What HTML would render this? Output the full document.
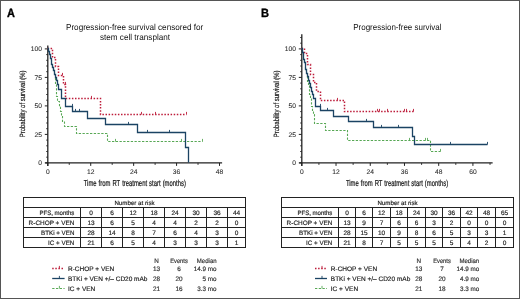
<!DOCTYPE html>
<html><head><meta charset="utf-8"><style>
html,body{margin:0;padding:0;background:#fff;width:520px;height:299px;overflow:hidden;font-family:"Liberation Sans",sans-serif}
</style></head><body>
<svg width="520" height="299" viewBox="0 0 520 299" style="position:absolute;left:0;top:0;will-change:transform">
<g font-family='"Liberation Sans", sans-serif' fill="#222">
<style>text{stroke:#000;stroke-width:0.15px;paint-order:stroke;text-rendering:geometricPrecision}.ns{stroke:none}.tk{stroke:#333;stroke-width:0.08px}.lb{stroke-width:0.35px}.ax{stroke-width:0.22px;word-spacing:0.6px}.yt{stroke-width:0.2px}</style>
<rect x="0.5" y="0.5" width="519" height="298" fill="none" stroke="#555" stroke-width="1"/>
<text x="6.9" y="16.6" font-size="12" text-anchor="start" font-weight="bold" fill="#000" textLength="7.9" lengthAdjust="spacingAndGlyphs" class="lb">A</text>
<text x="260.9" y="16.6" font-size="12" text-anchor="start" font-weight="bold" fill="#000" textLength="8.0" lengthAdjust="spacingAndGlyphs" class="lb">B</text>
<line x1="47.8" y1="45.6" x2="47.8" y2="165.9" stroke="#222" stroke-width="1.3"/>
<line x1="45.2" y1="162.9" x2="222.1" y2="162.9" stroke="#222" stroke-width="1.3"/>
<line x1="44.8" y1="162.9" x2="47.8" y2="162.9" stroke="#222" stroke-width="1"/>
<line x1="46.2" y1="157.2" x2="47.8" y2="157.2" stroke="#222" stroke-width="0.9"/>
<line x1="46.2" y1="151.5" x2="47.8" y2="151.5" stroke="#222" stroke-width="0.9"/>
<line x1="46.2" y1="145.8" x2="47.8" y2="145.8" stroke="#222" stroke-width="0.9"/>
<line x1="46.2" y1="140.1" x2="47.8" y2="140.1" stroke="#222" stroke-width="0.9"/>
<line x1="44.8" y1="134.4" x2="47.8" y2="134.4" stroke="#222" stroke-width="1"/>
<line x1="46.2" y1="128.7" x2="47.8" y2="128.7" stroke="#222" stroke-width="0.9"/>
<line x1="46.2" y1="123" x2="47.8" y2="123" stroke="#222" stroke-width="0.9"/>
<line x1="46.2" y1="117.3" x2="47.8" y2="117.3" stroke="#222" stroke-width="0.9"/>
<line x1="46.2" y1="111.6" x2="47.8" y2="111.6" stroke="#222" stroke-width="0.9"/>
<line x1="44.8" y1="105.9" x2="47.8" y2="105.9" stroke="#222" stroke-width="1"/>
<line x1="46.2" y1="100.2" x2="47.8" y2="100.2" stroke="#222" stroke-width="0.9"/>
<line x1="46.2" y1="94.5" x2="47.8" y2="94.5" stroke="#222" stroke-width="0.9"/>
<line x1="46.2" y1="88.8" x2="47.8" y2="88.8" stroke="#222" stroke-width="0.9"/>
<line x1="46.2" y1="83.1" x2="47.8" y2="83.1" stroke="#222" stroke-width="0.9"/>
<line x1="44.8" y1="77.4" x2="47.8" y2="77.4" stroke="#222" stroke-width="1"/>
<line x1="46.2" y1="71.7" x2="47.8" y2="71.7" stroke="#222" stroke-width="0.9"/>
<line x1="46.2" y1="66" x2="47.8" y2="66" stroke="#222" stroke-width="0.9"/>
<line x1="46.2" y1="60.3" x2="47.8" y2="60.3" stroke="#222" stroke-width="0.9"/>
<line x1="46.2" y1="54.6" x2="47.8" y2="54.6" stroke="#222" stroke-width="0.9"/>
<line x1="44.8" y1="48.9" x2="47.8" y2="48.9" stroke="#222" stroke-width="1"/>
<text x="42" y="165.3" font-size="6.7" text-anchor="end" fill="#2a2a2a" class="tk">0</text>
<text x="42" y="136.8" font-size="6.7" text-anchor="end" fill="#2a2a2a" class="tk">25</text>
<text x="42" y="108.3" font-size="6.7" text-anchor="end" fill="#2a2a2a" class="tk">50</text>
<text x="42" y="79.8" font-size="6.7" text-anchor="end" fill="#2a2a2a" class="tk">75</text>
<text x="42" y="51.3" font-size="6.7" text-anchor="end" fill="#2a2a2a" class="tk">100</text>
<line x1="69.26" y1="162.9" x2="69.26" y2="164.9" stroke="#222" stroke-width="0.9"/>
<line x1="112.19" y1="162.9" x2="112.19" y2="164.9" stroke="#222" stroke-width="0.9"/>
<line x1="155.11" y1="162.9" x2="155.11" y2="164.9" stroke="#222" stroke-width="0.9"/>
<line x1="198.03" y1="162.9" x2="198.03" y2="164.9" stroke="#222" stroke-width="0.9"/>
<line x1="47.8" y1="162.9" x2="47.8" y2="165.9" stroke="#222" stroke-width="1"/>
<text x="47.8" y="174.4" font-size="6.7" text-anchor="middle" fill="#2a2a2a" class="tk">0</text>
<line x1="90.72" y1="162.9" x2="90.72" y2="165.9" stroke="#222" stroke-width="1"/>
<text x="90.72" y="174.4" font-size="6.7" text-anchor="middle" fill="#2a2a2a" class="tk">12</text>
<line x1="133.65" y1="162.9" x2="133.65" y2="165.9" stroke="#222" stroke-width="1"/>
<text x="133.65" y="174.4" font-size="6.7" text-anchor="middle" fill="#2a2a2a" class="tk">24</text>
<line x1="176.57" y1="162.9" x2="176.57" y2="165.9" stroke="#222" stroke-width="1"/>
<text x="176.57" y="174.4" font-size="6.7" text-anchor="middle" fill="#2a2a2a" class="tk">36</text>
<line x1="219.5" y1="162.9" x2="219.5" y2="165.9" stroke="#222" stroke-width="1"/>
<text x="219.5" y="174.4" font-size="6.7" text-anchor="middle" fill="#2a2a2a" class="tk">48</text>
<text x="134.6" y="29.7" font-size="8.6" text-anchor="middle" fill="#111" textLength="137.2" lengthAdjust="spacingAndGlyphs" class="ns">Progression-free survival censored for</text>
<text x="135" y="39.7" font-size="8.6" text-anchor="middle" fill="#111" textLength="70.2" lengthAdjust="spacingAndGlyphs" class="ns">stem cell transplant</text>
<text transform="translate(25.0,103.8) rotate(-90)" x="0" y="0" font-size="7.6" text-anchor="middle" textLength="66.7" lengthAdjust="spacingAndGlyphs" class="yt">Probability of survival (%)</text>
<path d="M47.50,48.50 48.50,48.50 48.50,51.50 49.50,51.50 49.50,54.50 50.50,54.50 50.50,58.50 51.50,58.50 51.50,61.50 51.50,61.50 51.50,64.50 52.50,64.50 52.50,67.50 53.50,67.50 53.50,70.50 54.50,70.50 54.50,74.50 55.50,74.50 55.50,77.50 55.50,77.50 55.50,84.50 56.50,84.50 56.50,90.50 56.50,90.50 56.50,96.50 57.50,96.50 57.50,101.50 59.50,101.50 59.50,106.50 60.50,106.50 60.50,111.50 61.50,111.50 61.50,116.50 62.50,116.50 62.50,121.50 64.50,121.50 64.50,126.50 76.50,126.50 76.50,133.50 107.50,133.50 107.50,141.50 202.50,141.50" fill="none" stroke="#58a855" stroke-width="1.1" stroke-dasharray="2.3,1.45" stroke-linejoin="miter"/>
<line x1="115.5" y1="141.5" x2="115.5" y2="138.9" stroke="#58a855" stroke-width="0.9"/>
<line x1="181.5" y1="141.5" x2="181.5" y2="138.9" stroke="#58a855" stroke-width="0.9"/>
<line x1="202.5" y1="141.5" x2="202.5" y2="138.9" stroke="#58a855" stroke-width="0.9"/>
<path d="M47.50,48.50 52.50,48.50 52.50,57.50 55.50,57.50 55.50,66.50 58.50,66.50 58.50,75.50 63.50,75.50 63.50,84.50 65.50,84.50 65.50,98.50 100.50,98.50 100.50,114.50 186.50,114.50" fill="none" stroke="#bd1c3a" stroke-width="1.5" stroke-dasharray="1.5,1.6" stroke-linejoin="miter"/>
<line x1="62.5" y1="75.5" x2="62.5" y2="72.9" stroke="#bd1c3a" stroke-width="0.9"/>
<line x1="65.5" y1="84.5" x2="65.5" y2="81.9" stroke="#bd1c3a" stroke-width="0.9"/>
<line x1="91.5" y1="98.5" x2="91.5" y2="95.9" stroke="#bd1c3a" stroke-width="0.9"/>
<line x1="141.5" y1="114.5" x2="141.5" y2="111.9" stroke="#bd1c3a" stroke-width="0.9"/>
<line x1="155.5" y1="114.5" x2="155.5" y2="111.9" stroke="#bd1c3a" stroke-width="0.9"/>
<line x1="186.5" y1="114.5" x2="186.5" y2="111.9" stroke="#bd1c3a" stroke-width="0.9"/>
<path d="M47.50,48.50 48.50,48.50 48.50,51.50 49.50,51.50 49.50,54.50 50.50,54.50 50.50,58.50 51.50,58.50 51.50,61.50 51.50,61.50 51.50,64.50 52.50,64.50 52.50,67.50 53.50,67.50 53.50,70.50 54.50,70.50 54.50,74.50 55.50,74.50 55.50,77.50 56.50,77.50 56.50,80.50 57.50,80.50 57.50,84.50 58.50,84.50 58.50,89.50 61.50,89.50 61.50,98.50 65.50,98.50 65.50,106.50 72.50,106.50 72.50,111.50 87.50,111.50 87.50,118.50 105.50,118.50 105.50,124.50 137.50,124.50 137.50,132.50 185.50,132.50 185.50,147.50 188.50,147.50 188.50,162.50" fill="none" stroke="#1b4363" stroke-width="1.3" stroke-dasharray="none" stroke-linejoin="miter"/>
<line x1="72.5" y1="106.5" x2="72.5" y2="103.9" stroke="#1b4363" stroke-width="0.9"/>
<line x1="75.5" y1="111.5" x2="75.5" y2="108.9" stroke="#1b4363" stroke-width="0.9"/>
<line x1="79.5" y1="111.5" x2="79.5" y2="108.9" stroke="#1b4363" stroke-width="0.9"/>
<line x1="128.5" y1="124.5" x2="128.5" y2="121.9" stroke="#1b4363" stroke-width="0.9"/>
<line x1="147.5" y1="132.5" x2="147.5" y2="129.9" stroke="#1b4363" stroke-width="0.9"/>
<line x1="169.5" y1="132.5" x2="169.5" y2="129.9" stroke="#1b4363" stroke-width="0.9"/>
<text x="134.8" y="185.9" font-size="8.6" text-anchor="middle" textLength="102.2" lengthAdjust="spacingAndGlyphs" class="ax">Time from RT treatment start (months)</text>
<line x1="301.8" y1="34.2" x2="301.8" y2="165.9" stroke="#222" stroke-width="1.3"/>
<line x1="299.2" y1="162.9" x2="492.63" y2="162.9" stroke="#222" stroke-width="1.3"/>
<line x1="298.8" y1="162.9" x2="301.8" y2="162.9" stroke="#222" stroke-width="1"/>
<line x1="300.2" y1="157.2" x2="301.8" y2="157.2" stroke="#222" stroke-width="0.9"/>
<line x1="300.2" y1="151.5" x2="301.8" y2="151.5" stroke="#222" stroke-width="0.9"/>
<line x1="300.2" y1="145.8" x2="301.8" y2="145.8" stroke="#222" stroke-width="0.9"/>
<line x1="300.2" y1="140.1" x2="301.8" y2="140.1" stroke="#222" stroke-width="0.9"/>
<line x1="298.8" y1="134.4" x2="301.8" y2="134.4" stroke="#222" stroke-width="1"/>
<line x1="300.2" y1="128.7" x2="301.8" y2="128.7" stroke="#222" stroke-width="0.9"/>
<line x1="300.2" y1="123" x2="301.8" y2="123" stroke="#222" stroke-width="0.9"/>
<line x1="300.2" y1="117.3" x2="301.8" y2="117.3" stroke="#222" stroke-width="0.9"/>
<line x1="300.2" y1="111.6" x2="301.8" y2="111.6" stroke="#222" stroke-width="0.9"/>
<line x1="298.8" y1="105.9" x2="301.8" y2="105.9" stroke="#222" stroke-width="1"/>
<line x1="300.2" y1="100.2" x2="301.8" y2="100.2" stroke="#222" stroke-width="0.9"/>
<line x1="300.2" y1="94.5" x2="301.8" y2="94.5" stroke="#222" stroke-width="0.9"/>
<line x1="300.2" y1="88.8" x2="301.8" y2="88.8" stroke="#222" stroke-width="0.9"/>
<line x1="300.2" y1="83.1" x2="301.8" y2="83.1" stroke="#222" stroke-width="0.9"/>
<line x1="298.8" y1="77.4" x2="301.8" y2="77.4" stroke="#222" stroke-width="1"/>
<line x1="300.2" y1="71.7" x2="301.8" y2="71.7" stroke="#222" stroke-width="0.9"/>
<line x1="300.2" y1="66" x2="301.8" y2="66" stroke="#222" stroke-width="0.9"/>
<line x1="300.2" y1="60.3" x2="301.8" y2="60.3" stroke="#222" stroke-width="0.9"/>
<line x1="300.2" y1="54.6" x2="301.8" y2="54.6" stroke="#222" stroke-width="0.9"/>
<line x1="298.8" y1="48.9" x2="301.8" y2="48.9" stroke="#222" stroke-width="1"/>
<line x1="300.2" y1="43.2" x2="301.8" y2="43.2" stroke="#222" stroke-width="0.9"/>
<line x1="300.2" y1="37.5" x2="301.8" y2="37.5" stroke="#222" stroke-width="0.9"/>
<text x="296" y="165.3" font-size="6.7" text-anchor="end" fill="#2a2a2a" class="tk">0</text>
<text x="296" y="136.8" font-size="6.7" text-anchor="end" fill="#2a2a2a" class="tk">25</text>
<text x="296" y="108.3" font-size="6.7" text-anchor="end" fill="#2a2a2a" class="tk">50</text>
<text x="296" y="79.8" font-size="6.7" text-anchor="end" fill="#2a2a2a" class="tk">75</text>
<text x="296" y="51.3" font-size="6.7" text-anchor="end" fill="#2a2a2a" class="tk">100</text>
<line x1="318.91" y1="162.9" x2="318.91" y2="164.9" stroke="#222" stroke-width="0.9"/>
<line x1="353.14" y1="162.9" x2="353.14" y2="164.9" stroke="#222" stroke-width="0.9"/>
<line x1="387.36" y1="162.9" x2="387.36" y2="164.9" stroke="#222" stroke-width="0.9"/>
<line x1="421.58" y1="162.9" x2="421.58" y2="164.9" stroke="#222" stroke-width="0.9"/>
<line x1="455.81" y1="162.9" x2="455.81" y2="164.9" stroke="#222" stroke-width="0.9"/>
<line x1="490.03" y1="162.9" x2="490.03" y2="164.9" stroke="#222" stroke-width="0.9"/>
<line x1="301.8" y1="162.9" x2="301.8" y2="165.9" stroke="#222" stroke-width="1"/>
<text x="301.8" y="174.4" font-size="6.7" text-anchor="middle" fill="#2a2a2a" class="tk">0</text>
<line x1="336.02" y1="162.9" x2="336.02" y2="165.9" stroke="#222" stroke-width="1"/>
<text x="336.02" y="174.4" font-size="6.7" text-anchor="middle" fill="#2a2a2a" class="tk">12</text>
<line x1="370.25" y1="162.9" x2="370.25" y2="165.9" stroke="#222" stroke-width="1"/>
<text x="370.25" y="174.4" font-size="6.7" text-anchor="middle" fill="#2a2a2a" class="tk">24</text>
<line x1="404.47" y1="162.9" x2="404.47" y2="165.9" stroke="#222" stroke-width="1"/>
<text x="404.47" y="174.4" font-size="6.7" text-anchor="middle" fill="#2a2a2a" class="tk">36</text>
<line x1="438.7" y1="162.9" x2="438.7" y2="165.9" stroke="#222" stroke-width="1"/>
<text x="438.7" y="174.4" font-size="6.7" text-anchor="middle" fill="#2a2a2a" class="tk">48</text>
<line x1="472.92" y1="162.9" x2="472.92" y2="165.9" stroke="#222" stroke-width="1"/>
<text x="472.92" y="174.4" font-size="6.7" text-anchor="middle" fill="#2a2a2a" class="tk">60</text>
<text x="397.4" y="29.6" font-size="8.6" text-anchor="middle" fill="#111" textLength="88.4" lengthAdjust="spacingAndGlyphs" class="ns">Progression-free survival</text>
<text transform="translate(279.0,103.8) rotate(-90)" x="0" y="0" font-size="7.6" text-anchor="middle" textLength="66.7" lengthAdjust="spacingAndGlyphs" class="yt">Probability of survival (%)</text>
<path d="M301.50,48.50 302.50,48.50 302.50,52.50 303.50,52.50 303.50,55.50 303.50,55.50 303.50,59.50 304.50,59.50 304.50,62.50 305.50,62.50 305.50,66.50 305.50,66.50 305.50,69.50 306.50,69.50 306.50,73.50 307.50,73.50 307.50,76.50 307.50,76.50 307.50,81.50 308.50,81.50 308.50,85.50 309.50,85.50 309.50,90.50 309.50,90.50 309.50,94.50 310.50,94.50 310.50,98.50 311.50,98.50 311.50,102.50 311.50,102.50 311.50,106.50 312.50,106.50 312.50,110.50 313.50,110.50 313.50,114.50 314.50,114.50 314.50,118.50 314.50,118.50 314.50,123.50 325.50,123.50 325.50,130.50 347.50,130.50 347.50,140.50 430.50,140.50 430.50,151.50 440.50,151.50" fill="none" stroke="#58a855" stroke-width="1.1" stroke-dasharray="2.3,1.45" stroke-linejoin="miter"/>
<line x1="409.5" y1="140.5" x2="409.5" y2="137.9" stroke="#58a855" stroke-width="0.9"/>
<line x1="425.5" y1="140.5" x2="425.5" y2="137.9" stroke="#58a855" stroke-width="0.9"/>
<line x1="427.5" y1="140.5" x2="427.5" y2="137.9" stroke="#58a855" stroke-width="0.9"/>
<line x1="440.5" y1="151.5" x2="440.5" y2="148.9" stroke="#58a855" stroke-width="0.9"/>
<path d="M301.50,48.50 304.50,48.50 304.50,53.50 307.50,53.50 307.50,64.50 310.50,64.50 310.50,74.50 313.50,74.50 313.50,82.50 316.50,82.50 316.50,91.50 320.50,91.50 320.50,100.50 344.50,100.50 344.50,111.50 413.50,111.50" fill="none" stroke="#bd1c3a" stroke-width="1.5" stroke-dasharray="1.5,1.6" stroke-linejoin="miter"/>
<line x1="337.5" y1="100.5" x2="337.5" y2="97.9" stroke="#bd1c3a" stroke-width="0.9"/>
<line x1="377.5" y1="111.5" x2="377.5" y2="108.9" stroke="#bd1c3a" stroke-width="0.9"/>
<line x1="379.5" y1="111.5" x2="379.5" y2="108.9" stroke="#bd1c3a" stroke-width="0.9"/>
<line x1="387.5" y1="111.5" x2="387.5" y2="108.9" stroke="#bd1c3a" stroke-width="0.9"/>
<line x1="404.5" y1="111.5" x2="404.5" y2="108.9" stroke="#bd1c3a" stroke-width="0.9"/>
<line x1="406.5" y1="111.5" x2="406.5" y2="108.9" stroke="#bd1c3a" stroke-width="0.9"/>
<line x1="413.5" y1="111.5" x2="413.5" y2="108.9" stroke="#bd1c3a" stroke-width="0.9"/>
<path d="M301.50,48.50 302.50,48.50 302.50,52.50 303.50,52.50 303.50,55.50 303.50,55.50 303.50,59.50 304.50,59.50 304.50,62.50 305.50,62.50 305.50,66.50 305.50,66.50 305.50,69.50 306.50,69.50 306.50,73.50 307.50,73.50 307.50,76.50 308.50,76.50 308.50,80.50 309.50,80.50 309.50,83.50 310.50,83.50 310.50,87.50 311.50,87.50 311.50,91.50 312.50,91.50 312.50,94.50 313.50,94.50 313.50,98.50 315.50,98.50 315.50,106.50 320.50,106.50 320.50,110.50 333.50,110.50 333.50,116.50 348.50,116.50 348.50,121.50 373.50,121.50 373.50,127.50 412.50,127.50 412.50,136.50 414.50,136.50 414.50,144.50 487.50,144.50" fill="none" stroke="#1b4363" stroke-width="1.3" stroke-dasharray="none" stroke-linejoin="miter"/>
<line x1="320.5" y1="106.5" x2="320.5" y2="103.9" stroke="#1b4363" stroke-width="0.9"/>
<line x1="327.5" y1="110.5" x2="327.5" y2="107.9" stroke="#1b4363" stroke-width="0.9"/>
<line x1="366.5" y1="121.5" x2="366.5" y2="118.9" stroke="#1b4363" stroke-width="0.9"/>
<line x1="381.5" y1="127.5" x2="381.5" y2="124.9" stroke="#1b4363" stroke-width="0.9"/>
<line x1="398.5" y1="127.5" x2="398.5" y2="124.9" stroke="#1b4363" stroke-width="0.9"/>
<line x1="450.5" y1="144.5" x2="450.5" y2="141.9" stroke="#1b4363" stroke-width="0.9"/>
<line x1="487.5" y1="144.5" x2="487.5" y2="141.9" stroke="#1b4363" stroke-width="0.9"/>
<text x="397" y="185.9" font-size="8.6" text-anchor="middle" textLength="102.2" lengthAdjust="spacingAndGlyphs" class="ax">Time from RT treatment start (months)</text>
<rect x="23.5" y="197.5" width="222.0" height="50.0" fill="none" stroke="#222" stroke-width="1"/>
<line x1="23.5" y1="207.5" x2="245.5" y2="207.5" stroke="#222" stroke-width="1"/>
<line x1="23.5" y1="217.5" x2="245.5" y2="217.5" stroke="#222" stroke-width="1"/>
<line x1="23.5" y1="227.5" x2="245.5" y2="227.5" stroke="#222" stroke-width="1"/>
<line x1="23.5" y1="237.5" x2="245.5" y2="237.5" stroke="#222" stroke-width="1"/>
<line x1="80.5" y1="207.5" x2="80.5" y2="247.5" stroke="#222" stroke-width="1"/>
<line x1="101.5" y1="207.5" x2="101.5" y2="247.5" stroke="#222" stroke-width="1"/>
<line x1="122.5" y1="207.5" x2="122.5" y2="247.5" stroke="#222" stroke-width="1"/>
<line x1="143.5" y1="207.5" x2="143.5" y2="247.5" stroke="#222" stroke-width="1"/>
<line x1="164.5" y1="207.5" x2="164.5" y2="247.5" stroke="#222" stroke-width="1"/>
<line x1="185.5" y1="207.5" x2="185.5" y2="247.5" stroke="#222" stroke-width="1"/>
<line x1="206.5" y1="207.5" x2="206.5" y2="247.5" stroke="#222" stroke-width="1"/>
<line x1="227.5" y1="207.5" x2="227.5" y2="247.5" stroke="#222" stroke-width="1"/>
<text x="134.5" y="204.5" font-size="6.2" text-anchor="middle">Number at risk</text>
<text x="74.4" y="214.5" font-size="6.3" text-anchor="end" textLength="35.0" lengthAdjust="spacingAndGlyphs">PFS, months</text>
<text x="91" y="214.5" font-size="6.5" text-anchor="middle">0</text>
<text x="112" y="214.5" font-size="6.5" text-anchor="middle">6</text>
<text x="133" y="214.5" font-size="6.5" text-anchor="middle">12</text>
<text x="154" y="214.5" font-size="6.5" text-anchor="middle">18</text>
<text x="175" y="214.5" font-size="6.5" text-anchor="middle">24</text>
<text x="196" y="214.5" font-size="6.5" text-anchor="middle">30</text>
<text x="217" y="214.5" font-size="6.5" text-anchor="middle">36</text>
<text x="236.5" y="214.5" font-size="6.5" text-anchor="middle">44</text>
<text x="74.4" y="224.5" font-size="6.3" text-anchor="end" textLength="45.8" lengthAdjust="spacingAndGlyphs">R-CHOP + VEN</text>
<text x="91" y="224.5" font-size="6.5" text-anchor="middle">13</text>
<text x="112" y="224.5" font-size="6.5" text-anchor="middle">6</text>
<text x="133" y="224.5" font-size="6.5" text-anchor="middle">5</text>
<text x="154" y="224.5" font-size="6.5" text-anchor="middle">4</text>
<text x="175" y="224.5" font-size="6.5" text-anchor="middle">4</text>
<text x="196" y="224.5" font-size="6.5" text-anchor="middle">2</text>
<text x="217" y="224.5" font-size="6.5" text-anchor="middle">2</text>
<text x="236.5" y="224.5" font-size="6.5" text-anchor="middle">0</text>
<text x="74.4" y="234.5" font-size="6.3" text-anchor="end" textLength="33.3" lengthAdjust="spacingAndGlyphs">BTKi + VEN</text>
<text x="91" y="234.5" font-size="6.5" text-anchor="middle">28</text>
<text x="112" y="234.5" font-size="6.5" text-anchor="middle">14</text>
<text x="133" y="234.5" font-size="6.5" text-anchor="middle">8</text>
<text x="154" y="234.5" font-size="6.5" text-anchor="middle">7</text>
<text x="175" y="234.5" font-size="6.5" text-anchor="middle">6</text>
<text x="196" y="234.5" font-size="6.5" text-anchor="middle">4</text>
<text x="217" y="234.5" font-size="6.5" text-anchor="middle">3</text>
<text x="236.5" y="234.5" font-size="6.5" text-anchor="middle">0</text>
<text x="74.4" y="244.5" font-size="6.3" text-anchor="end" textLength="26.3" lengthAdjust="spacingAndGlyphs">IC + VEN</text>
<text x="91" y="244.5" font-size="6.5" text-anchor="middle">21</text>
<text x="112" y="244.5" font-size="6.5" text-anchor="middle">6</text>
<text x="133" y="244.5" font-size="6.5" text-anchor="middle">5</text>
<text x="154" y="244.5" font-size="6.5" text-anchor="middle">4</text>
<text x="175" y="244.5" font-size="6.5" text-anchor="middle">3</text>
<text x="196" y="244.5" font-size="6.5" text-anchor="middle">3</text>
<text x="217" y="244.5" font-size="6.5" text-anchor="middle">3</text>
<text x="236.5" y="244.5" font-size="6.5" text-anchor="middle">1</text>
<rect x="281.5" y="197.5" width="232.0" height="50.0" fill="none" stroke="#222" stroke-width="1"/>
<line x1="281.5" y1="207.5" x2="513.5" y2="207.5" stroke="#222" stroke-width="1"/>
<line x1="281.5" y1="217.5" x2="513.5" y2="217.5" stroke="#222" stroke-width="1"/>
<line x1="281.5" y1="227.5" x2="513.5" y2="227.5" stroke="#222" stroke-width="1"/>
<line x1="281.5" y1="237.5" x2="513.5" y2="237.5" stroke="#222" stroke-width="1"/>
<line x1="338.5" y1="207.5" x2="338.5" y2="247.5" stroke="#222" stroke-width="1"/>
<line x1="355.5" y1="207.5" x2="355.5" y2="247.5" stroke="#222" stroke-width="1"/>
<line x1="372.5" y1="207.5" x2="372.5" y2="247.5" stroke="#222" stroke-width="1"/>
<line x1="390.5" y1="207.5" x2="390.5" y2="247.5" stroke="#222" stroke-width="1"/>
<line x1="407.5" y1="207.5" x2="407.5" y2="247.5" stroke="#222" stroke-width="1"/>
<line x1="425.5" y1="207.5" x2="425.5" y2="247.5" stroke="#222" stroke-width="1"/>
<line x1="442.5" y1="207.5" x2="442.5" y2="247.5" stroke="#222" stroke-width="1"/>
<line x1="460.5" y1="207.5" x2="460.5" y2="247.5" stroke="#222" stroke-width="1"/>
<line x1="477.5" y1="207.5" x2="477.5" y2="247.5" stroke="#222" stroke-width="1"/>
<line x1="495.5" y1="207.5" x2="495.5" y2="247.5" stroke="#222" stroke-width="1"/>
<text x="397.5" y="204.5" font-size="6.2" text-anchor="middle">Number at risk</text>
<text x="332.4" y="214.5" font-size="6.3" text-anchor="end" textLength="35.0" lengthAdjust="spacingAndGlyphs">PFS, months</text>
<text x="347" y="214.5" font-size="6.5" text-anchor="middle">0</text>
<text x="364" y="214.5" font-size="6.5" text-anchor="middle">6</text>
<text x="381.5" y="214.5" font-size="6.5" text-anchor="middle">12</text>
<text x="399" y="214.5" font-size="6.5" text-anchor="middle">18</text>
<text x="416.5" y="214.5" font-size="6.5" text-anchor="middle">24</text>
<text x="434" y="214.5" font-size="6.5" text-anchor="middle">30</text>
<text x="451.5" y="214.5" font-size="6.5" text-anchor="middle">36</text>
<text x="469" y="214.5" font-size="6.5" text-anchor="middle">42</text>
<text x="486.5" y="214.5" font-size="6.5" text-anchor="middle">48</text>
<text x="504.5" y="214.5" font-size="6.5" text-anchor="middle">65</text>
<text x="332.4" y="224.5" font-size="6.3" text-anchor="end" textLength="45.8" lengthAdjust="spacingAndGlyphs">R-CHOP + VEN</text>
<text x="347" y="224.5" font-size="6.5" text-anchor="middle">13</text>
<text x="364" y="224.5" font-size="6.5" text-anchor="middle">9</text>
<text x="381.5" y="224.5" font-size="6.5" text-anchor="middle">7</text>
<text x="399" y="224.5" font-size="6.5" text-anchor="middle">6</text>
<text x="416.5" y="224.5" font-size="6.5" text-anchor="middle">6</text>
<text x="434" y="224.5" font-size="6.5" text-anchor="middle">3</text>
<text x="451.5" y="224.5" font-size="6.5" text-anchor="middle">2</text>
<text x="469" y="224.5" font-size="6.5" text-anchor="middle">0</text>
<text x="486.5" y="224.5" font-size="6.5" text-anchor="middle">0</text>
<text x="504.5" y="224.5" font-size="6.5" text-anchor="middle">0</text>
<text x="332.4" y="234.5" font-size="6.3" text-anchor="end" textLength="33.3" lengthAdjust="spacingAndGlyphs">BTKi + VEN</text>
<text x="347" y="234.5" font-size="6.5" text-anchor="middle">28</text>
<text x="364" y="234.5" font-size="6.5" text-anchor="middle">15</text>
<text x="381.5" y="234.5" font-size="6.5" text-anchor="middle">10</text>
<text x="399" y="234.5" font-size="6.5" text-anchor="middle">9</text>
<text x="416.5" y="234.5" font-size="6.5" text-anchor="middle">8</text>
<text x="434" y="234.5" font-size="6.5" text-anchor="middle">6</text>
<text x="451.5" y="234.5" font-size="6.5" text-anchor="middle">5</text>
<text x="469" y="234.5" font-size="6.5" text-anchor="middle">3</text>
<text x="486.5" y="234.5" font-size="6.5" text-anchor="middle">3</text>
<text x="504.5" y="234.5" font-size="6.5" text-anchor="middle">1</text>
<text x="332.4" y="244.5" font-size="6.3" text-anchor="end" textLength="26.3" lengthAdjust="spacingAndGlyphs">IC + VEN</text>
<text x="347" y="244.5" font-size="6.5" text-anchor="middle">21</text>
<text x="364" y="244.5" font-size="6.5" text-anchor="middle">8</text>
<text x="381.5" y="244.5" font-size="6.5" text-anchor="middle">7</text>
<text x="399" y="244.5" font-size="6.5" text-anchor="middle">5</text>
<text x="416.5" y="244.5" font-size="6.5" text-anchor="middle">5</text>
<text x="434" y="244.5" font-size="6.5" text-anchor="middle">5</text>
<text x="451.5" y="244.5" font-size="6.5" text-anchor="middle">5</text>
<text x="469" y="244.5" font-size="6.5" text-anchor="middle">4</text>
<text x="486.5" y="244.5" font-size="6.5" text-anchor="middle">2</text>
<text x="504.5" y="244.5" font-size="6.5" text-anchor="middle">0</text>
<text x="156.6" y="262.8" font-size="6.3" text-anchor="middle" fill="#333">N</text>
<text x="179" y="262.8" font-size="6.3" text-anchor="middle" fill="#333" textLength="17.6" lengthAdjust="spacingAndGlyphs">Events</text>
<text x="216.6" y="262.8" font-size="6.3" text-anchor="end" fill="#333" textLength="19.8" lengthAdjust="spacingAndGlyphs">Median</text>
<line x1="52.2" y1="268.5" x2="64.6" y2="268.5" stroke="#bd1c3a" stroke-width="1.5" stroke-dasharray="1.5,1.6"/>
<line x1="59.4" y1="268.5" x2="59.4" y2="265.9" stroke="#bd1c3a" stroke-width="0.9"/>
<text x="68" y="270.7" font-size="6.5" text-anchor="start">R-CHOP + VEN</text>
<text x="156.6" y="270.7" font-size="6.4" text-anchor="middle" fill="#333">13</text>
<text x="179" y="270.7" font-size="6.4" text-anchor="middle" fill="#333">6</text>
<text x="216.6" y="270.7" font-size="6.3" text-anchor="end" fill="#333">14.9 mo</text>
<line x1="52.2" y1="278.5" x2="64.6" y2="278.5" stroke="#1b4363" stroke-width="1.3" stroke-dasharray="none"/>
<line x1="59.4" y1="278.5" x2="59.4" y2="275.9" stroke="#1b4363" stroke-width="0.9"/>
<text x="68" y="280.5" font-size="6.5" text-anchor="start">BTKi + VEN +/– CD20 mAb</text>
<text x="156.6" y="280.5" font-size="6.4" text-anchor="middle" fill="#333">28</text>
<text x="179" y="280.5" font-size="6.4" text-anchor="middle" fill="#333">20</text>
<text x="216.6" y="280.5" font-size="6.3" text-anchor="end" fill="#333">5 mo</text>
<line x1="52.2" y1="288.5" x2="64.6" y2="288.5" stroke="#58a855" stroke-width="1.1" stroke-dasharray="2.3,1.45"/>
<line x1="59.4" y1="288.5" x2="59.4" y2="285.9" stroke="#58a855" stroke-width="0.9"/>
<text x="68" y="290.6" font-size="6.5" text-anchor="start">IC + VEN</text>
<text x="156.6" y="290.6" font-size="6.4" text-anchor="middle" fill="#333">21</text>
<text x="179" y="290.6" font-size="6.4" text-anchor="middle" fill="#333">16</text>
<text x="216.6" y="290.6" font-size="6.3" text-anchor="end" fill="#333">3.3 mo</text>
<text x="418.8" y="262.8" font-size="6.3" text-anchor="middle" fill="#333">N</text>
<text x="442" y="262.8" font-size="6.3" text-anchor="middle" fill="#333" textLength="17.6" lengthAdjust="spacingAndGlyphs">Events</text>
<text x="479.2" y="262.8" font-size="6.3" text-anchor="end" fill="#333" textLength="19.8" lengthAdjust="spacingAndGlyphs">Median</text>
<line x1="315.0" y1="268.5" x2="327.0" y2="268.5" stroke="#bd1c3a" stroke-width="1.5" stroke-dasharray="1.5,1.6"/>
<line x1="322.0" y1="268.5" x2="322.0" y2="265.9" stroke="#bd1c3a" stroke-width="0.9"/>
<text x="330.8" y="270.7" font-size="6.5" text-anchor="start">R-CHOP + VEN</text>
<text x="418.8" y="270.7" font-size="6.4" text-anchor="middle" fill="#333">13</text>
<text x="442" y="270.7" font-size="6.4" text-anchor="middle" fill="#333">7</text>
<text x="479.2" y="270.7" font-size="6.3" text-anchor="end" fill="#333">14.9 mo</text>
<line x1="315.0" y1="278.5" x2="327.0" y2="278.5" stroke="#1b4363" stroke-width="1.3" stroke-dasharray="none"/>
<line x1="322.0" y1="278.5" x2="322.0" y2="275.9" stroke="#1b4363" stroke-width="0.9"/>
<text x="330.8" y="280.5" font-size="6.5" text-anchor="start">BTKi + VEN +/– CD20 mAb</text>
<text x="418.8" y="280.5" font-size="6.4" text-anchor="middle" fill="#333">28</text>
<text x="442" y="280.5" font-size="6.4" text-anchor="middle" fill="#333">20</text>
<text x="479.2" y="280.5" font-size="6.3" text-anchor="end" fill="#333">4.9 mo</text>
<line x1="315.0" y1="288.5" x2="327.0" y2="288.5" stroke="#58a855" stroke-width="1.1" stroke-dasharray="2.3,1.45"/>
<line x1="322.0" y1="288.5" x2="322.0" y2="285.9" stroke="#58a855" stroke-width="0.9"/>
<text x="330.8" y="290.6" font-size="6.5" text-anchor="start">IC + VEN</text>
<text x="418.8" y="290.6" font-size="6.4" text-anchor="middle" fill="#333">21</text>
<text x="442" y="290.6" font-size="6.4" text-anchor="middle" fill="#333">18</text>
<text x="479.2" y="290.6" font-size="6.3" text-anchor="end" fill="#333">3.3 mo</text>
</g></svg>
</body></html>
